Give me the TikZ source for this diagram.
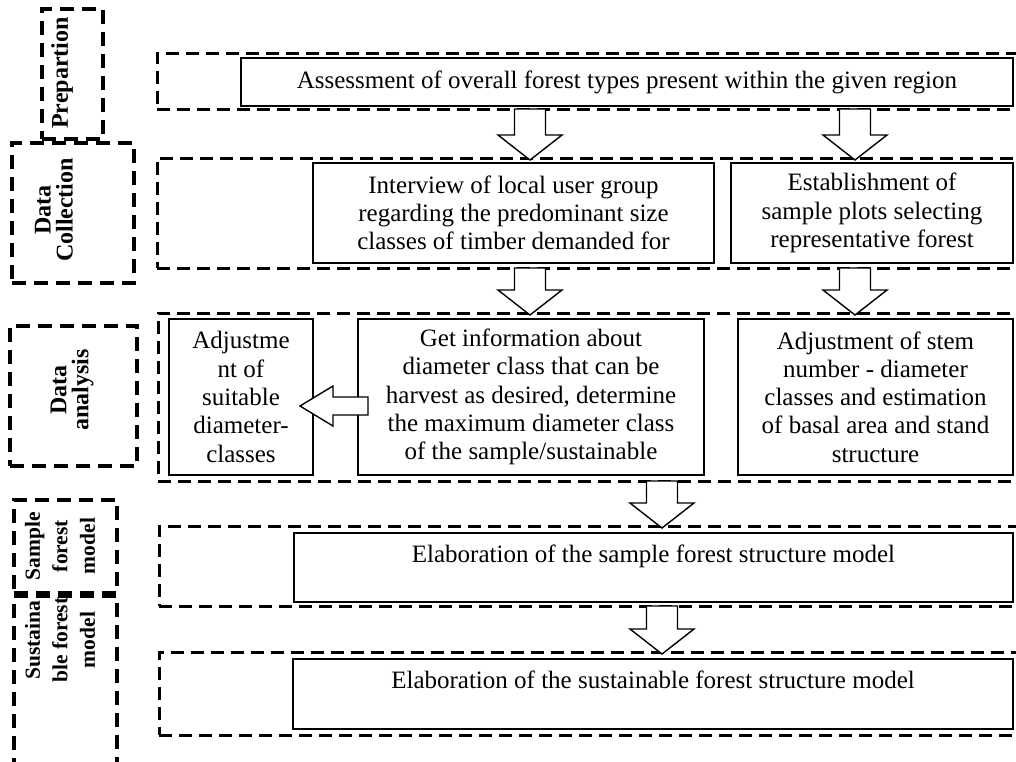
\documentclass[tikz,border=0pt]{standalone}
\usepackage{fontspec}
\setmainfont{Liberation Serif}
\usetikzlibrary{calc}
\tikzset{
  stagebox/.style={draw, line width=3.2pt, dash pattern=on 14pt off 8pt, inner sep=0pt, outer sep=0pt},
  rowbox/.style={draw, line width=3pt, dash pattern=on 13pt off 7pt, inner sep=0pt, outer sep=0pt},
  stepbox/.style={draw, line width=1.3pt, fill=white, inner sep=0pt, outer sep=0pt, align=center, font=\fontsize{25}{28.3}\selectfont},
  stagelabel/.style={rotate=90, align=center, font=\bfseries\fontsize{24}{22}\selectfont},
  smalllabel/.style={stagelabel, font=\bfseries\fontsize{21.5}{27.5}\selectfont},
  blockarrow/.style={draw, line width=1.4pt, fill=white, line join=miter}
}
\newcommand{\fcstage}[5] {\node[stagebox, minimum width={(#4-#2)*1pt}, minimum height={(#5-#3)*1pt}] (#1) at ({(#2+#4)/2},{(#3+#5)/2}) {};}
\newcommand{\fcrow}[5] {\node[rowbox, minimum width={(#4-#2)*1pt}, minimum height={(#5-#3)*1pt}] (#1) at ({(#2+#4)/2},{(#3+#5)/2}) {};}
\newcommand{\fcstep}[6] {\node[stepbox, minimum width={(#4-#2)*1pt}, minimum height={(#5-#3)*1pt}] (#1) at ({(#2+#4)/2},{(#3+#5)/2}) {#6};}
\newcommand{\fcdown}[3] {\coordinate (tail) at (#1 |- #2.south); \coordinate (tip) at ($(#1 |- #3.north)+(0,2)$);
  \draw[blockarrow] ($(tail)+(-15.5,0)$) -- ($(tail)+(15.5,0)$) -- ($(tip)+(15.5,-25)$) -- ($(tip)+(32,-25)$) -- (tip) -- ($(tip)+(-32,-25)$) -- ($(tip)+(-15.5,-25)$) -- cycle;}
\newcommand{\fcleft}[3] {\coordinate (tail) at ($(#2.west |- #1)+(10,0)$); \coordinate (tip) at ($(#3.east |- #1)+(-13,0)$);
  \draw[blockarrow] ($(tail)+(0,-9)$) -- ($(tip)+(33,-9)$) -- ($(tip)+(33,-20)$) -- (tip) -- ($(tip)+(33,20)$) -- ($(tip)+(33,9)$) -- ($(tail)+(0,9)$) -- cycle;}

\begin{document}
\begin{tikzpicture}[x=1pt, y=-1pt]
\useasboundingbox (0,0) rectangle (1016,761);
\clip (0,0) rectangle (1016,761);

% stages on the left
\fcstage {prep}{42}{9}{103}{139}
\fcstage {coll}{12}{143}{134}{283}
\fcstage {ana}{10}{326}{137}{466}
\fcstage {samp}{14}{500}{117}{593}
\fcstage {sust}{14}{596}{117}{800}

\node[stagelabel] (prepText) at (62,73) {Prepartion};
\node[stagelabel] (collText) at (54,210) {Data\\Collection};
\node[stagelabel] (anaText) at (72,390) {Data\\analysis};
\node[smalllabel] (sampText) at (60,546) {Sample\\forest\\model};
\node[smalllabel] (sustText) at (60,640) {Sustaina\\ble forest\\model};

% rows
\fcrow {prepRow}{157}{53}{1030}{109}
\fcrow {collRow}{157}{158}{1030}{268}
\fcrow {anaRow}{158}{313}{1030}{481}
\fcrow {sampRow}{159}{526}{1030}{606}
\fcrow {sustRow}{159}{652}{1030}{735}

% steps
\fcstep {assess}{241}{58}{1013}{106} {Assessment of overall forest types present within the given region}
\fcstep {interview}{313}{163}{714}{263} {Interview of local user group\\regarding the predominant size\\classes of timber demanded for}
\fcstep {establish}{731}{163}{1013}{263} {Establishment of\\sample plots selecting\\representative forest}
\fcstep {adjust}{169}{319}{313}{475} {Adjustme\\nt of\\suitable\\diameter-\\classes}
\fcstep {getinfo}{358}{319}{704}{475} {Get information about\\diameter class that can be\\harvest as desired, determine\\the maximum diameter class\\of the sample/sustainable}
\fcstep {stemnum}{738}{319}{1013}{475} {Adjustment of stem\\number - diameter\\classes and estimation\\of basal area and stand\\structure}
\fcstep {sampModel}{294}{533}{1013}{602} {Elaboration of the sample forest structure model\\\mbox{}}
\fcstep {sustModel}{293}{659}{1013}{729} {Elaboration of the sustainable forest structure model\\\mbox{}}

% arrows
\coordinate (colL) at (530,0);
\coordinate (colR) at (855,0);
\coordinate (colM) at (662,0);
\coordinate (rowA) at (0,406);

\fcdown{colL}{prepRow}{collRow}
\fcdown{colR}{prepRow}{collRow}
\fcdown{colL}{collRow}{anaRow}
\fcdown{colR}{collRow}{anaRow}
\fcdown{colM}{anaRow}{sampRow}
\fcdown{colM}{sampRow}{sustRow}
\fcleft{rowA}{getinfo}{adjust}
\end{tikzpicture}
\end{document}
